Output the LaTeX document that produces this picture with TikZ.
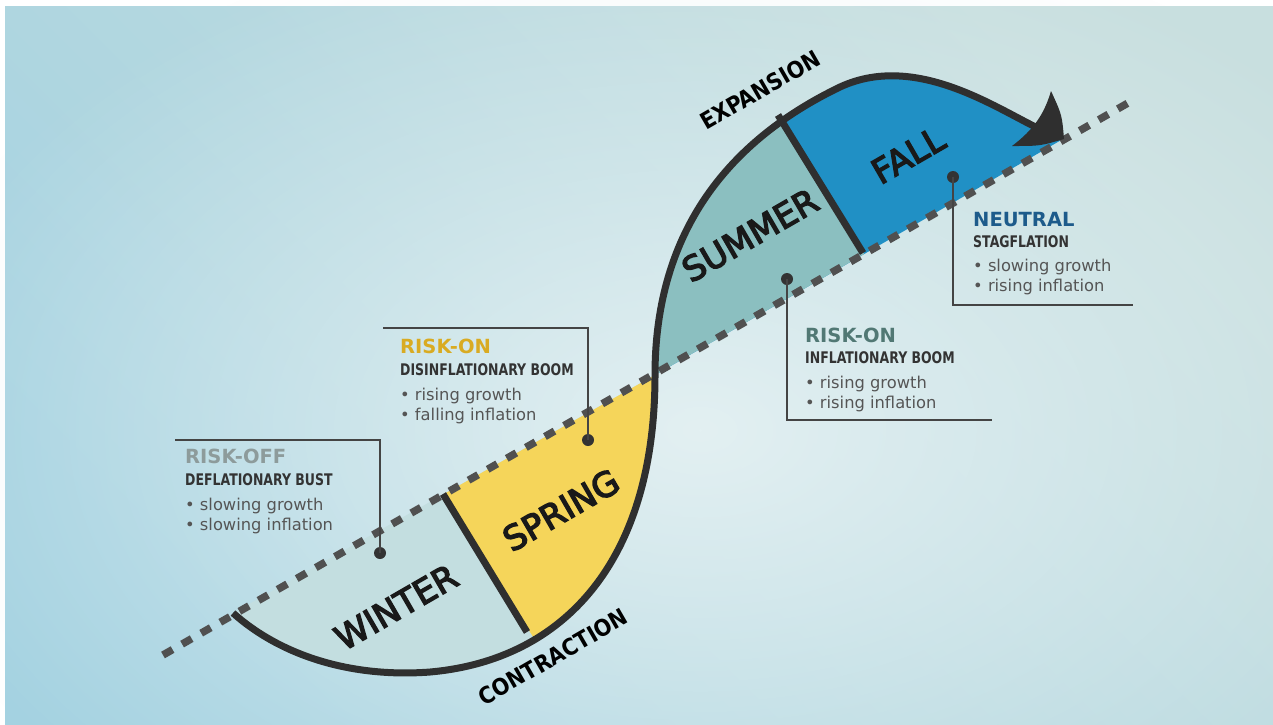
\documentclass[tikz,border=0pt]{standalone}
\usepackage{fontspec}
\setmainfont{DejaVu Sans}
\newfontfamily\dvcond{DejaVu Sans}[FakeStretch=0.78]
\newfontfamily\dvbig{DejaVu Sans}[FakeStretch=0.9]
\newfontfamily\dvseason{DejaVu Sans}[FakeBold=4]
\usetikzlibrary{fadings}
\definecolor{curvec}{HTML}{2F2F2F}
\definecolor{dashc}{HTML}{505050}
\definecolor{winterc}{HTML}{C3DEE0}
\definecolor{springc}{HTML}{F5D55A}
\definecolor{summerc}{HTML}{8BBFC0}
\definecolor{fallc}{HTML}{2090C5}
\definecolor{riskoffc}{HTML}{8D9B9B}
\definecolor{riskonyc}{HTML}{D9AB22}
\definecolor{riskontc}{HTML}{517874}
\definecolor{neutralc}{HTML}{1D5B8B}
\definecolor{subc}{HTML}{333333}
\definecolor{bulc}{HTML}{555555}
\definecolor{leadc}{HTML}{444444}
\definecolor{dotc}{HTML}{333333}
\definecolor{bgblue}{HTML}{A4D2E1}
\definecolor{bgtop}{HTML}{C8DFDF}
\definecolor{glowc}{HTML}{E3F0F2}
\tikzfading[name=glowfade, inner color=transparent!0, outer color=transparent!100]
\begin{document}
\begin{tikzpicture}[x=1pt,y=-1pt,
  curve/.style={line width=7pt, draw=curvec, line join=round},
  dashln/.style={line width=7.5pt, draw=dashc, dash pattern=on 11pt off 11pt},
  leader/.style={line width=1.6pt, draw=leadc},
  dotn/.style={circle, fill=dotc, minimum size=12pt, inner sep=0pt},
  head/.style={font=\fontsize{19.5}{22}\selectfont\bfseries, anchor=base west, inner sep=0pt},
  subt/.style={font=\fontsize{16}{18}\selectfont\dvcond\bfseries, text=subc, anchor=base west, inner sep=0pt},
  bul/.style={font=\fontsize{16.3}{18}\selectfont, text=bulc, anchor=base west, inner sep=0pt},
  season/.style={font=\fontsize{34}{38}\selectfont\dvseason, text=black!90, rotate=30, inner sep=0pt},
  phase/.style={font=\fontsize{23}{26}\selectfont\dvbig\bfseries, text=black, rotate=30, inner sep=0pt},
  lowerpath/.style={insert path={(233,613) .. controls (280,655) and (350,678) .. (430,672) .. controls (565,660) and (655,560) .. (655,375)}},
  upperpath/.style={insert path={(655,375) .. controls (655,230) and (730,140) .. (840,87) .. controls (920,50) and (1005,115) .. (1063,139)}}
]
\useasboundingbox (0,0) rectangle (1273,724);
% background
\fill[white] (0,0) rectangle (1273,724);
\shade[bottom color=bgblue, top color=bgtop, shading angle=-45] (5,6) rectangle (1273,724);
\fill[glowc, path fading=glowfade] (700,430) ellipse (820 and 520);
% region fills
\path[fill=winterc, lowerpath] -- cycle;
\begin{scope}
  \clip (269,218) -- (617,770) -- (900,770) -- (900,218) -- cycle;
  \path[fill=springc, lowerpath] -- cycle;
\end{scope}
\path[fill=fallc, upperpath] -- cycle;
\begin{scope}
  \clip (693,-22) -- (1033,526) -- (600,526) -- (600,-22) -- cycle;
  \path[fill=summerc, upperpath] -- cycle;
\end{scope}
% dashed axis
\coordinate (ds) at (163,655);
\coordinate (de) at (1128,103);
\draw[dashln] (ds) -- (de);
% S curve
\draw[curve, shorten >=16pt] (233,613) .. controls (280,655) and (350,678) .. (430,672) .. controls (565,660) and (655,560) .. (655,375) .. controls (655,230) and (730,140) .. (840,87) .. controls (920,50) and (1005,115) .. (1063,139);
\coordinate (wsa) at (443,494);
\coordinate (wsb) at (527,632);
\coordinate (sfa) at (778,115);
\coordinate (sfb) at (863,253);
\draw[curve] (wsa) -- (wsb);
\draw[curve] (sfa) -- (sfb);
\fill[curvec] (1064,139) .. controls (1062,115) .. (1051,91) .. controls (1044,115) and (1033,130) .. (1012,146) .. controls (1040,146) .. (1064,139) -- cycle;
% season labels
\node[season] (winter) at (396,607) {WINTER};
\node[season] (spring) at (561,510) {SPRING};
\node[season] (summer) at (750,235) {SUMMER};
\node[season] (fall) at (908,155) {FALL};
\node[phase] (expansion) at (760,90) {EXPANSION};
\node[phase] (contraction) at (553,657) {CONTRACTION};
% leaders
\node[dotn] (dw) at (380,553) {};
\coordinate (cw1) at (380,440);
\coordinate (cw2) at (175,440);
\draw[leader] (dw.center) -- (cw1) -- (cw2);
\node[dotn] (dsp) at (588,440) {};
\coordinate (cs1) at (588,328);
\coordinate (cs2) at (383,328);
\draw[leader] (dsp.center) -- (cs1) -- (cs2);
\node[dotn] (dsu) at (787,279) {};
\coordinate (cu1) at (787,420);
\coordinate (cu2) at (992,420);
\draw[leader] (dsu.center) -- (cu1) -- (cu2);
\node[dotn] (dfa) at (953,177) {};
\coordinate (cf1) at (953,305);
\coordinate (cf2) at (1133,305);
\draw[leader] (dfa.center) -- (cf1) -- (cf2);
% text blocks
\node[head, text=riskoffc] (w1) at (185,463) {RISK-OFF};
\node[subt] (w2) at (185,485) {DEFLATIONARY BUST};
\node[bul] (w3) at (185,510) {• slowing growth};
\node[bul] (w4) at (185,530) {• slowing inflation};
\node[head, text=riskonyc] (s1) at (400,353) {RISK-ON};
\node[subt] (s2) at (400,375) {DISINFLATIONARY BOOM};
\node[bul] (s3) at (400,400) {• rising growth};
\node[bul] (s4) at (400,420) {• falling inflation};
\node[head, text=riskontc] (u1) at (805,342) {RISK-ON};
\node[subt] (u2) at (805,363) {INFLATIONARY BOOM};
\node[bul] (u3) at (805,388) {• rising growth};
\node[bul] (u4) at (805,408) {• rising inflation};
\node[head, text=neutralc] (f1) at (973,226) {NEUTRAL};
\node[subt] (f2) at (973,247) {STAGFLATION};
\node[bul] (f3) at (973,271) {• slowing growth};
\node[bul] (f4) at (973,291) {• rising inflation};
\end{tikzpicture}
\end{document}
